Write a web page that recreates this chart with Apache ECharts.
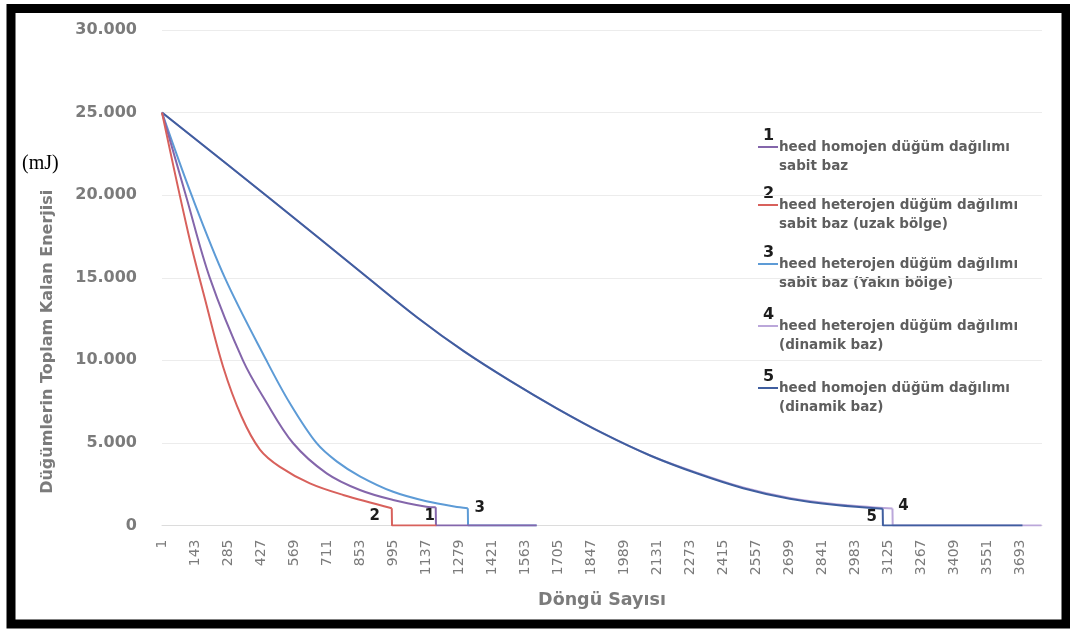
<!DOCTYPE html>
<html>
<head>
<meta charset="utf-8">
<title>Düğümlerin Toplam Kalan Enerjisi</title>
<script src="https://cdn.jsdelivr.net/npm/echarts@6/dist/echarts.min.js"></script>
<style>
  html, body { margin: 0; padding: 0; background: #ffffff; }
  #chart { width: 1070px; height: 631px; }
</style>
</head>
<body>
<div id="chart"></div>
<script>
// Round numbers printed under the x axis
const cycleTicks = [1, 143, 285, 427, 569, 711, 853, 995, 1137, 1279, 1421, 1563, 1705, 1847,
  1989, 2131, 2273, 2415, 2557, 2699, 2841, 2983, 3125, 3267, 3409, 3551, 3693];

// Series names (legend) and their short tags
const seriesNames = [
  'heed homojen düğüm dağılımı\nsabit baz',
  'heed heterojen düğüm dağılımı\nsabit baz (uzak bölge)',
  'heed heterojen düğüm dağılımı\nsabit baz (Yakın bölge)',
  'heed heterojen düğüm dağılımı\n(dinamik baz)',
  'heed homojen düğüm dağılımı\n(dinamik baz)'
];
const seriesTags = ['1', '2', '3', '4', '5'];

// Remaining total energy (mJ) per round: [round, energy]
const homojenSabit = [[1, 25000], [104, 19970], [207, 14980], [350, 9970], [444, 7600], [565, 4980],
  [709, 3160], [852, 2150], [995, 1545], [1138, 1140], [1178, 1100]];
const heterojenSabitUzak = [[1, 25000], [114, 17700], [186, 13700], [264, 9600], [343, 6600], [422, 4600],
  [508, 3550], [637, 2550], [780, 1850], [989, 1050]];
const heterojenSabitYakin = [[1, 25000], [129, 19970], [272, 14980], [451, 9970], [551, 7400], [666, 4980],
  [752, 3880], [852, 2980], [995, 2040], [1138, 1470], [1282, 1100], [1316, 1050]];
const heterojenDinamik = [[1, 25000], [465, 19800], [886, 15000], [1100, 12580], [1300, 10540], [1500, 8740],
  [1700, 7080], [1900, 5560], [2100, 4240], [2300, 3200], [2500, 2300], [2700, 1670], [2900, 1290], [3142, 1030]];
const homojenDinamik = [[1, 25000], [465, 19800], [886, 15000], [1100, 12580], [1300, 10540], [1500, 8740],
  [1700, 7080], [1900, 5560], [2100, 4240], [2300, 3160], [2500, 2260], [2700, 1620], [2900, 1240], [3100, 1020]];

// Last simulated round of each run (energy stays at 0 after the drop)
const lastRounds = [1612, 1180, 1612, 3783, 3701];

const curves = [homojenSabit, heterojenSabitUzak, heterojenSabitYakin, heterojenDinamik, homojenDinamik];
const colors = ['#8466ab', '#d8615c', '#5d9bd6', '#bba7da', '#3f5e9f'];
// tag label offsets next to each drop, in pixels
const tagOffsets = [[-6, 9], [-17, 8], [12, 0], [11, -2], [-11, 8]];
// drawing order: long runs underneath, then the short ones
const drawOrder = [3, 4, 2, 0, 1];

const chart = echarts.init(document.getElementById('chart'), null, { renderer: 'canvas' });

const series = [];
drawOrder.forEach(function (i) {
  const pts = curves[i];
  const last = pts[pts.length - 1];
  series.push({
    name: seriesNames[i],
    type: 'line',
    data: pts,
    smooth: 0.35,
    showSymbol: false,
    lineStyle: { color: colors[i], width: 2 },
    itemStyle: { color: colors[i] },
    z: 2
  });
  series.push({
    name: seriesNames[i],
    type: 'line',
    data: [last, [last[0] + 1, 0], [lastRounds[i], 0]],
    smooth: false,
    showSymbol: false,
    lineStyle: { color: colors[i], width: 2 },
    itemStyle: { color: colors[i] },
    z: 2,
    markPoint: {
      symbol: 'circle',
      symbolSize: 1,
      itemStyle: { color: 'rgba(0,0,0,0)' },
      label: {
        show: true,
        position: 'inside',
        offset: tagOffsets[i],
        formatter: seriesTags[i],
        fontFamily: 'DejaVu Sans',
        fontWeight: 'bold',
        fontSize: 15,
        color: '#1c1c1c'
      },
      data: [{ coord: last }]
    }
  });
});

// Legend block on the right: tag number, short colour swatch, two-line text
const legendTop = [138, 196, 255, 317, 379];
const legendGraphics = [];
seriesNames.forEach(function (name, i) {
  const cy = legendTop[i];
  legendGraphics.push({
    type: 'text', left: 763, top: cy - 10,
    style: { text: seriesTags[i], font: 'bold 16px "DejaVu Sans"', fill: '#1c1c1c' }
  });
  legendGraphics.push({
    type: 'rect', shape: { x: 758, y: cy + 8, width: 20, height: 2 },
    style: { fill: colors[i] }
  });
  legendGraphics.push({
    type: 'text', left: 779, top: cy - 0.5,
    style: { text: name, font: 'bold 13.5px "DejaVu Sans"', fill: '#5e5e5e', lineHeight: 19 }
  });
});

const option = {
  animation: false,
  backgroundColor: '#ffffff',
  grid: { left: 162, right: 28, top: 30, bottom: 105.5, outerBoundsMode: 'none' },
  xAxis: {
    type: 'value',
    min: 1,
    max: 3785,
    name: 'Döngü Sayısı',
    nameLocation: 'middle',
    nameGap: 66,
    nameTextStyle: { fontFamily: 'DejaVu Sans', fontWeight: 'bold', fontSize: 17.5, color: '#7b7b7b' },
    axisLine: { show: true, lineStyle: { color: '#dcdcdc', width: 1 } },
    axisTick: { show: false },
    splitLine: { show: false },
    axisLabel: {
      customValues: cycleTicks,
      rotate: 90,
      margin: 14,
      fontFamily: 'DejaVu Sans',
      fontSize: 14,
      color: '#7b7b7b',
      formatter: function (v) { return String(v); }
    }
  },
  yAxis: {
    type: 'value',
    min: 0,
    max: 30000,
    interval: 5000,
    name: 'Düğümlerin Toplam Kalan Enerjisi',
    nameLocation: 'middle',
    nameGap: 106,
    nameTextStyle: {
      fontFamily: 'DejaVu Sans', fontWeight: 'bold', fontSize: 16, color: '#7b7b7b',
      padding: [0, 128, 0, 0]
    },
    axisLine: { show: false },
    axisTick: { show: false },
    splitLine: { show: true, lineStyle: { color: '#ececec', width: 1 } },
    axisLabel: {
      margin: 25,
      fontFamily: 'DejaVu Sans',
      fontWeight: 'bold',
      fontSize: 16,
      color: '#7b7b7b',
      formatter: function (v) {
        if (v === 0) return '0';
        const th = Math.floor(v / 1000);
        const rest = String(v % 1000).padStart(3, '0');
        return th + '.' + rest;
      }
    }
  },
  graphic: [
    {
      type: 'text', left: 22, top: 154,
      style: { text: '(mJ)', font: '20px "Liberation Serif"', fill: '#000000' }
    },
    {
      type: 'rect', z: 100,
      shape: { x: 11, y: 8.5, width: 1055, height: 615.5 },
      style: { fill: 'none', stroke: '#000000', lineWidth: 9 }
    }
  ].concat(legendGraphics),
  series: series
};

chart.setOption(option);
</script>
</body>
</html>
